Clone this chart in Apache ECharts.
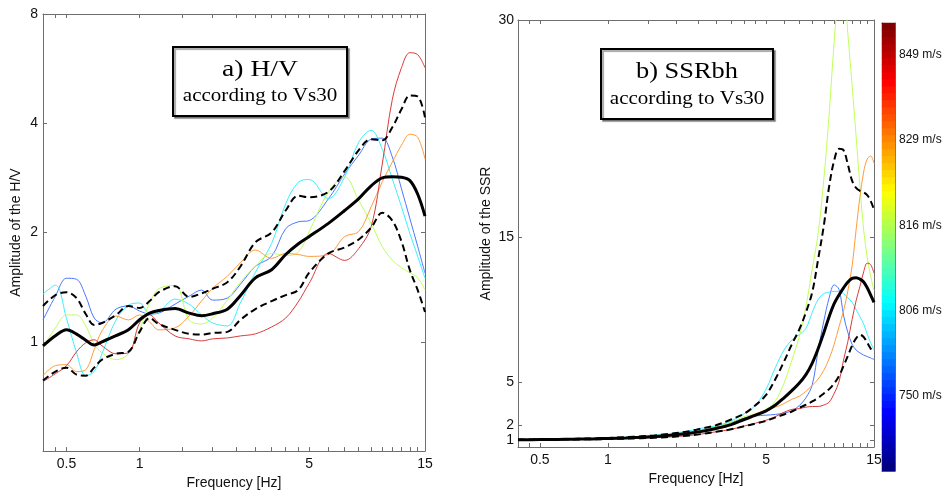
<!DOCTYPE html>
<html><head><meta charset="utf-8">
<script src="https://cdn.jsdelivr.net/npm/echarts@6/dist/echarts.min.js"></script>
<style>html,body{margin:0;padding:0;background:#fff}#c{width:946px;height:495px}</style>
</head><body><div id="c"></div>
<script>
// ---------- data: panel a) H/V ----------
const freqHV = [0.4,0.45,0.5,0.55,0.6,0.65,0.7,0.8,0.9,1.0,1.1,1.2,1.4,1.6,1.8,2.0,2.3,2.6,3.0,3.5,4.0,4.5,5.0,6,7,8,9,10,11,12,13,14,15];
const hvRed    = [0.777,0.817,0.86,0.939,0.994,1.013,0.975,0.927,0.933,1.127,1.186,1.127,1.038,1.019,1.006,1.019,1.025,1.038,1.052,1.099,1.163,1.287,1.45,1.752,1.676,1.808,2.077,3.09,4.65,5.69,6.26,6.18,5.69];
const hvOrange = [0.807,0.86,0.865,0.828,0.838,0.951,1.072,1.178,1.149,1.186,1.134,1.079,1.092,1.178,1.295,1.405,1.516,1.65,1.79,1.698,1.752,1.74,1.719,1.74,1.95,2.013,2.355,2.758,3.128,3.48,3.73,3.66,3.19];
const hvYellow = [0.969,1.092,1.186,1.186,1.106,0.987,0.933,0.893,0.927,1.079,1.279,1.40,1.43,1.149,1.12,1.163,1.303,1.46,1.614,1.752,1.73,1.763,2.013,2.59,2.85,2.45,2.12,1.83,1.68,1.6,1.55,1.5,1.39];
const hvCyan   = [1.353,1.432,1.16,0.933,0.807,0.828,0.927,1.149,1.262,1.279,1.193,1.208,1.311,1.27,1.186,1.127,1.106,1.279,1.554,1.866,2.4,2.75,2.8,2.48,2.846,3.548,3.827,3.395,2.81,2.355,1.987,1.719,1.497];
const hvBlue   = [1.149,1.336,1.497,1.487,1.336,1.163,1.127,1.231,1.255,1.216,1.193,1.2,1.27,1.336,1.388,1.303,1.32,1.44,1.614,1.72,2.05,2.14,2.157,2.477,2.9,3.27,3.616,3.64,3.23,2.639,2.184,1.831,1.545];
const hvMean   = [0.975,1.04,1.08,1.05,1.01,0.98,1.0,1.04,1.08,1.15,1.2,1.22,1.235,1.2,1.18,1.195,1.23,1.34,1.5,1.58,1.74,1.86,1.95,2.12,2.3,2.48,2.69,2.83,2.85,2.84,2.78,2.55,2.22];
const hvUpper  = [1.255,1.345,1.37,1.32,1.193,1.113,1.127,1.186,1.255,1.24,1.295,1.37,1.423,1.33,1.36,1.40,1.46,1.61,1.88,2.0,2.3,2.525,2.5,2.59,2.956,3.374,3.616,3.59,3.9,4.37,4.77,4.74,4.15];
const hvLower  = [0.782,0.828,0.849,0.812,0.807,0.849,0.893,0.927,0.939,1.065,1.163,1.12,1.079,1.052,1.047,1.058,1.065,1.149,1.231,1.295,1.345,1.388,1.55,1.752,1.82,1.914,2.064,2.269,2.157,1.89,1.575,1.388,1.208];

// ---------- data: panel b) SSRbh ----------
const freqSSR = [0.4,0.5,0.6,0.7,0.8,0.9,1,1.2,1.4,1.6,1.8,2,2.3,2.6,3,3.5,4,4.5,5,5.5,6,6.5,7,7.5,8,8.5,9,9.5,10,10.5,11,11.5,12,12.5,13,13.5,14,14.5,15];
const ssrRed    = [1.0,1.0,1.01,1.02,1.03,1.04,1.05,1.08,1.11,1.14,1.18,1.22,1.3,1.4,1.55,1.72,1.95,2.15,2.35,2.6,2.9,3.1,3.15,3.25,3.3,3.3,3.4,3.6,4.2,5.0,6.5,7.8,9.3,10.6,11.6,12.6,13.2,13.1,12.5];
const ssrOrange = [1.0,1.0,1.02,1.03,1.05,1.06,1.08,1.12,1.16,1.21,1.27,1.33,1.42,1.55,1.72,2.0,2.45,2.8,3.05,3.25,3.5,3.8,4.0,4.35,4.75,5.2,5.8,6.6,7.6,8.8,9.9,11.3,13.0,15.5,17.8,19.5,20.4,20.6,20.1];
const ssrYellow = [1.0,1.0,1.02,1.03,1.05,1.07,1.09,1.13,1.18,1.24,1.3,1.38,1.5,1.65,1.9,2.2,2.6,2.8,3.1,3.7,4.9,6.5,8.1,10.2,12.8,15.3,19,23.5,28.5,32,32.5,29,25.5,22,18.5,15.5,13.6,12.3,11.3];
const ssrCyan   = [1.0,1.02,1.04,1.06,1.08,1.1,1.13,1.18,1.25,1.32,1.4,1.48,1.62,1.8,1.95,2.3,2.8,3.4,4.5,6.0,7.2,7.9,8.25,8.7,9.8,10.7,11.1,11.2,11.25,11.25,11.1,10.8,10.5,10.0,9.5,9.0,8.3,7.7,7.2];
const ssrBlue   = [1.0,1.01,1.02,1.04,1.06,1.08,1.1,1.14,1.19,1.25,1.32,1.4,1.52,1.67,1.9,2.2,2.5,2.65,2.7,2.75,2.85,3.0,3.35,3.9,4.8,7.2,9.2,10.8,11.7,11.4,9.6,8.4,7.6,7.2,7.0,6.85,6.75,6.65,6.55];
const ssrMean   = [1.0,1.01,1.02,1.04,1.05,1.07,1.09,1.13,1.17,1.22,1.28,1.35,1.45,1.58,1.78,2.05,2.4,2.7,3.0,3.4,3.9,4.4,4.9,5.5,6.3,7.3,8.4,9.5,10.4,11.0,11.5,11.9,12.15,12.2,12.1,11.9,11.5,11.0,10.5];
const ssrUpper  = [1.0,1.02,1.04,1.06,1.08,1.1,1.13,1.18,1.24,1.3,1.38,1.46,1.6,1.78,2.0,2.4,2.8,3.4,4.1,5.2,6.4,7.6,8.6,9.8,11.2,13.5,15.8,18.5,20.3,21.1,21.0,20.0,18.9,18.4,18.2,18.1,17.9,17.5,16.9];
const ssrLower  = [1.0,1.0,1.01,1.02,1.03,1.04,1.05,1.08,1.11,1.14,1.18,1.22,1.3,1.4,1.55,1.72,1.93,2.12,2.3,2.55,2.75,2.95,3.2,3.42,3.65,3.9,4.2,4.5,4.9,5.4,6.1,6.8,7.5,8.0,8.25,8.1,7.7,7.3,7.0];

// ---------- ticks / labels ----------
const xTickFreqs  = [0.45,0.5,1,1.5,2,2.5,3,3.5,4,4.5,5,6,7,8,9,10,11,12,13,14,15];
const xLabelFreqs = [0.5,1,5,15];
const ssrYTicks   = [1,2,5,15,30];
const cbarLabels  = ['750 m/s','806 m/s','816 m/s','829 m/s','849 m/s'];
const cbarTickPos = [0.167,0.357,0.547,0.739,0.929];
const stationColors = ['#4a78ff','#3cf0ff','#c0ff5a','#ff9c3c','#d83c3c']; // 750,806,816,829,849

// ---------- helpers ----------
const lg = Math.log10;
function jet(t){
  const c = v => Math.round(255*Math.min(Math.max(v,0),1));
  return 'rgb(' + c(1.5-Math.abs(4*t-3)) + ',' + c(1.5-Math.abs(4*t-2)) + ',' + c(1.5-Math.abs(4*t-1)) + ')';
}
const NJ = 64;
const jetColors = []; for (let i=0;i<NJ;i++) jetColors.push(jet(i/(NJ-1)));
const cbarCats = []; const cbarData = [];
for (let i=0;i<NJ;i++){ cbarCats.push(String(i)); cbarData.push([0,i,i]); }

const AX = '#6e6e6e', TXT = '#111';
const FONT = 'Liberation Sans';
const fmtFreq = v => { const f = Math.pow(10, v); return String(+f.toPrecision(2)); };

function xAxisPair(grid, nameGap){
  const base = { type:'value', gridIndex:grid, min:lg(0.4), max:lg(15), splitLine:{show:false},
    axisLine:{show:true, onZero:false, lineStyle:{color:AX}},
    axisTick:{show:true, inside:true, length:4, lineStyle:{color:AX}, customValues:xTickFreqs.map(lg)} };
  return [
    Object.assign({}, base, { position:'bottom', name:'Frequency [Hz]', nameLocation:'middle', nameGap:nameGap,
      nameTextStyle:{fontFamily:FONT, fontSize:14, color:TXT},
      axisLabel:{show:true, customValues:xLabelFreqs.map(lg), formatter:fmtFreq, fontFamily:FONT, fontSize:14, color:TXT, margin:6} }),
    Object.assign({}, base, { position:'top', axisLabel:{show:false} })
  ];
}

function line(name, xs, ys, xi, yi, color, width, type, z){
  return { name, type:'line', xAxisIndex:xi, yAxisIndex:yi, symbol:'none', smooth:0.35, silent:true,
    z:z, clip:true, lineStyle:{color, width, type}, data: xs.map((f,i)=>[lg(f), ys[i]]) };
}

const hvCurves  = [hvBlue, hvCyan, hvYellow, hvOrange, hvRed];
const ssrCurves = [ssrBlue, ssrCyan, ssrYellow, ssrOrange, ssrRed];

const series = [];
hvCurves.forEach((c,i)=>series.push(line('hv'+i, freqHV, c, 0, 0, stationColors[i], 1, 'solid', 2)));
series.push(line('hvUpper', freqHV, hvUpper, 0, 0, '#000', 2, [7,4], 3));
series.push(line('hvLower', freqHV, hvLower, 0, 0, '#000', 2, [7,4], 3));
series.push(line('hvMean',  freqHV, hvMean,  0, 0, '#000', 3, 'solid', 4));
ssrCurves.forEach((c,i)=>series.push(line('ssr'+i, freqSSR, c, 2, 2, stationColors[i], 1, 'solid', 2)));
series.push(line('ssrUpper', freqSSR, ssrUpper, 2, 2, '#000', 2, [7,4], 3));
series.push(line('ssrLower', freqSSR, ssrLower, 2, 2, '#000', 2, [7,4], 3));
series.push(line('ssrMean',  freqSSR, ssrMean,  2, 2, '#000', 3, 'solid', 4));
const heatIdx = series.length;
series.push({ type:'heatmap', xAxisIndex:4, yAxisIndex:4, data:cbarData, silent:true, itemStyle:{borderWidth:0} });

const yLogBase = { type:'log', logBase:2, min:0.5, max:8, gridIndex:0, splitLine:{show:false},
  axisLine:{show:true, onZero:false, lineStyle:{color:AX}}, axisTick:{show:true, inside:true, length:4, lineStyle:{color:AX}} };
const ySsrBase = { type:'value', min:0.5, max:30, gridIndex:1, splitLine:{show:false},
  axisLine:{show:true, onZero:false, lineStyle:{color:AX}}, axisTick:{show:true, inside:true, length:4, lineStyle:{color:AX}, customValues:ssrYTicks} };

const option = {
  animation:false,
  backgroundColor:'#fff',
  grid:[
    {left:43, top:14, width:382, height:439},
    {left:518, top:20, width:356, height:427},
    {left:882, top:23, width:13, height:448}
  ],
  xAxis:[
    ...xAxisPair(0, 21),
    ...xAxisPair(1, 20),
    { type:'category', gridIndex:2, data:[''], position:'bottom', axisLine:{show:true, onZero:false, lineStyle:{color:AX}}, axisTick:{show:false}, axisLabel:{show:false} },
    { type:'category', gridIndex:2, data:[''], position:'top', axisLine:{show:true, onZero:false, lineStyle:{color:AX}}, axisTick:{show:false}, axisLabel:{show:false} }
  ],
  yAxis:[
    Object.assign({}, yLogBase, { position:'left', name:'Amplitude of the H/V', nameLocation:'middle', nameGap:20, nameRotate:90,
      nameTextStyle:{fontFamily:FONT, fontSize:14, color:TXT},
      axisLabel:{show:true, fontFamily:FONT, fontSize:14, color:TXT, margin:5, formatter:v => (v < 0.9 ? '' : String(v))} }),
    Object.assign({}, yLogBase, { position:'right', axisLabel:{show:false} }),
    Object.assign({}, ySsrBase, { position:'left', name:'Amplitude of the SSR', nameLocation:'middle', nameGap:25, nameRotate:90,
      nameTextStyle:{fontFamily:FONT, fontSize:14, color:TXT},
      axisLabel:{show:true, customValues:ssrYTicks, fontFamily:FONT, fontSize:14, color:TXT, margin:4} }),
    Object.assign({}, ySsrBase, { position:'right', axisLabel:{show:false} }),
    { type:'category', gridIndex:2, data:cbarCats, position:'left', axisLine:{show:true, onZero:false, lineStyle:{color:AX}}, axisTick:{show:false}, axisLabel:{show:false} },
    { type:'value', gridIndex:2, min:0, max:1, position:'right', splitLine:{show:false},
      axisLine:{show:true, onZero:false, lineStyle:{color:AX}},
      axisTick:{show:true, inside:true, length:4, customValues:cbarTickPos, lineStyle:{color:'#000'}},
      axisLabel:{show:true, customValues:cbarTickPos, margin:4, fontFamily:FONT, fontSize:12, color:TXT,
        formatter:v => { let b=0; cbarTickPos.forEach((p,i)=>{ if (Math.abs(p-v) < Math.abs(cbarTickPos[b]-v)) b=i; }); return cbarLabels[b]; } } },
    { type:'value', gridIndex:2, min:0, max:1, position:'left', splitLine:{show:false},
      axisLine:{show:false, onZero:false}, axisTick:{show:true, inside:true, length:4, customValues:cbarTickPos, lineStyle:{color:'#000'}}, axisLabel:{show:false} }
  ],
  visualMap:{ type:'continuous', show:false, min:0, max:NJ-1, dimension:2, seriesIndex:heatIdx, inRange:{color:jetColors} },
  graphic:[
    { type:'rect', z:100, shape:{x:173, y:47, width:174, height:69}, style:{fill:'#fff', stroke:'#000', lineWidth:2, shadowColor:'rgba(0,0,0,0.35)', shadowOffsetX:2, shadowOffsetY:2, shadowBlur:1} },
    { type:'text', z:101, x:260, y:70, scaleX:1.15, style:{text:'a) H/V', font:'24px "Liberation Serif"', fill:'#000', textAlign:'center', textVerticalAlign:'middle'} },
    { type:'text', z:101, x:260, y:96, scaleX:1.17, style:{text:'according to Vs30', font:'18px "Liberation Serif"', fill:'#000', textAlign:'center', textVerticalAlign:'middle'} },
    { type:'rect', z:100, shape:{x:601, y:49, width:172, height:70}, style:{fill:'#fff', stroke:'#000', lineWidth:2, shadowColor:'rgba(0,0,0,0.35)', shadowOffsetX:2, shadowOffsetY:2, shadowBlur:1} },
    { type:'text', z:101, x:687, y:72, scaleX:1.1, style:{text:'b) SSRbh', font:'24px "Liberation Serif"', fill:'#000', textAlign:'center', textVerticalAlign:'middle'} },
    { type:'text', z:101, x:687, y:99, scaleX:1.17, style:{text:'according to Vs30', font:'18px "Liberation Serif"', fill:'#000', textAlign:'center', textVerticalAlign:'middle'} }
  ],
  series
};
const chart = echarts.init(document.getElementById('c'), null, {renderer:'canvas'});
chart.setOption(option);
</script></body></html>
